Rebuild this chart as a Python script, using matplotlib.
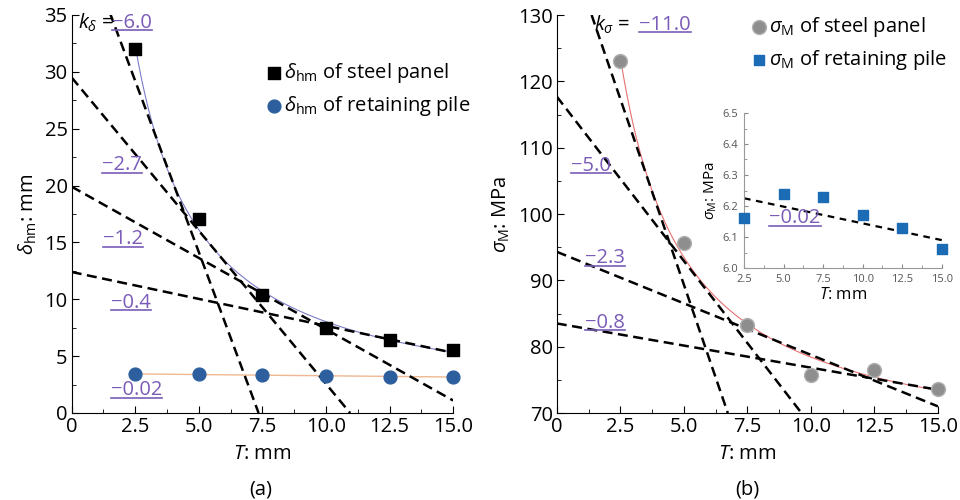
import numpy as np
import matplotlib.pyplot as plt
from matplotlib.ticker import MultipleLocator
from matplotlib.lines import Line2D

plt.rcParams['font.family'] = ['Open Sans', 'DejaVu Sans']
plt.rcParams['mathtext.fontset'] = 'custom'
plt.rcParams['mathtext.rm'] = 'Open Sans'
plt.rcParams['mathtext.it'] = 'Open Sans:italic'

FS = 14.5

# thickness T (mm)
T = np.array([2.5, 5.0, 7.5, 10.0, 12.5, 15.0])

# (a) horizontal displacement
d_panel = np.array([32.0, 17.1, 10.4, 7.5, 6.4, 5.5])
d_pile = np.array([3.45, 3.4, 3.3, 3.25, 3.2, 3.2])
# tangent lines: (x0, y0, x1, y1) and slope label
a_lines = [(1.5, 35.2, 7.35, 0.0), (0.0, 29.5, 10.95, 0.0),
           (0.0, 19.9, 15.0, 1.1), (0.0, 12.4, 15.0, 5.3)]
a_labels = ["\u22122.7", "\u22121.2", "\u22120.4", "\u22120.02"]
a_label_pos = [(1.2, 21.8), (1.25, 15.3), (1.55, 9.7), (1.55, 2.0)]

# (b) max stress
s_panel = np.array([123.0, 95.7, 83.2, 75.8, 76.5, 73.6])
s_pile = np.array([6.16, 6.24, 6.23, 6.17, 6.13, 6.06])
b_lines = [(1.37, 130.0, 6.73, 70.0), (0.0, 117.7, 9.63, 70.0),
           (0.0, 94.3, 15.0, 71.0), (0.0, 83.5, 15.0, 73.5)]
b_labels = ["\u22125.0", "\u22122.3", "\u22120.8"]
b_label_pos = [(0.55, 107.3), (1.1, 93.3), (1.1, 83.6)]
inset_line = (2.5, 6.225, 15.0, 6.09)

purple = '#7a5cb8'
dash = dict(color='k', lw=1.8, ls=(0, (4, 2.2)))
ulabels = []


def ulabel(ax, x, y, s, size=FS):
    t = ax.text(x, y, s, fontsize=size, va='center', color=purple)
    ulabels.append(t)


def fit_curve(x, y):
    b, a = np.polyfit(1.0 / x, y, 1)
    xs = np.linspace(x.min(), x.max(), 200)
    return xs, a + b / xs


def style(ax, xlim, ylim, ymaj, ymin):
    ax.set_xlim(*xlim)
    ax.set_ylim(*ylim)
    for s in ['top', 'right']:
        ax.spines[s].set_visible(False)
    ax.xaxis.set_major_locator(MultipleLocator(2.5))
    ax.xaxis.set_minor_locator(MultipleLocator(1.25))
    ax.yaxis.set_major_locator(MultipleLocator(ymaj))
    ax.yaxis.set_minor_locator(MultipleLocator(ymin))
    ax.tick_params(which='both', direction='in')
    ax.tick_params(which='major', length=5, labelsize=FS, pad=3)
    ax.tick_params(which='minor', length=3)


fig = plt.figure(figsize=(9.6, 5), dpi=100)
ax1 = fig.add_axes([0.0747, 0.174, 0.3973, 0.796])
ax2 = fig.add_axes([0.580, 0.174, 0.397, 0.796])
ax3 = fig.add_axes([0.775, 0.464, 0.206, 0.310])

# ---- (a)
style(ax1, (0, 15), (0, 35), 5, 2.5)
ax1.xaxis.set_major_formatter(lambda v, p: '0' if v == 0 else f'{v:.1f}')
xs, ys = fit_curve(T, d_panel)
ax1.plot(xs, ys, color='#7c7cc8', lw=0.8)
c = np.polyfit(T, d_pile, 1)
ax1.plot(T, np.polyval(c, T), color='#f0b890', lw=1)
for x0, y0, x1, y1 in a_lines:
    ax1.plot([x0, x1], [y0, y1], **dash)
ax1.scatter(T, d_panel, marker='s', s=65, color='k', zorder=5, clip_on=False,
            label=r'$\delta_{\rm hm}$ of steel panel')
ax1.scatter(T, d_pile, marker='o', s=85, color='#2d5f9e', zorder=5, clip_on=False,
            label=r'$\delta_{\rm hm}$ of retaining pile')
ax1.legend(loc='upper left', bbox_to_anchor=(0.47, 0.92), frameon=False,
           fontsize=FS, handletextpad=0.05, handlelength=0.9, labelspacing=0.45,
           borderpad=0.2)
ax1.text(0.25, 34.3, r'$k_\delta$ =', fontsize=FS, va='center')
ulabel(ax1, 1.6, 34.3, '\u22126.0')
for lab, (x, y) in zip(a_labels, a_label_pos):
    ulabel(ax1, x, y, lab)
ax1.set_ylabel(r'$\delta_{\rm hm}$: mm', fontsize=FS, labelpad=4)
ax1.set_xlabel(r'$T$: mm', fontsize=FS, labelpad=5)
fig.text(0.272, 0.012, '(a)', fontsize=FS, ha='center')

# ---- (b)
style(ax2, (0, 15), (70, 130), 10, 5)
ax2.xaxis.set_major_formatter(lambda v, p: '0' if v == 0 else f'{v:.1f}')
xs, ys = fit_curve(T, s_panel)
ax2.plot(xs, ys, color='#e87070', lw=0.8)
for x0, y0, x1, y1 in b_lines:
    ax2.plot([x0, x1], [y0, y1], **dash)
ax2.scatter(T, s_panel, marker='o', s=100, color='#8e8e8e', edgecolor='#b0b0b0',
            zorder=5, clip_on=False, label=r'$\sigma_{\rm M}$ of steel panel')
ax2.scatter([], [], marker='s', s=45, color='#1c6bb5', label=r'$\sigma_{\rm M}$ of retaining pile')
ax2.legend(loc='upper left', bbox_to_anchor=(0.47, 1.035), frameon=False,
           fontsize=FS, handletextpad=0.05, handlelength=0.9, labelspacing=0.45,
           borderpad=0.2)
ax2.text(1.45, 128.5, r'$k_\sigma$ =', fontsize=FS, va='center')
ulabel(ax2, 3.25, 128.5, '\u221211.0')
for lab, (x, y) in zip(b_labels, b_label_pos):
    ulabel(ax2, x, y, lab)
ax2.set_ylabel(r'$\sigma_{\rm M}$: MPa', fontsize=FS, labelpad=4)
ax2.set_xlabel(r'$T$: mm', fontsize=FS, labelpad=5)
fig.text(0.778, 0.012, '(b)', fontsize=FS, ha='center')

# ---- inset
style(ax3, (2.5, 15), (6.0, 6.5), 0.1, 0.05)
ax3.tick_params(which='major', labelsize=8, labelcolor='#555555', length=3,
                color='#888888')
ax3.tick_params(axis='x', which='major', pad=4)
ax3.tick_params(axis='y', which='major', pad=4)
ax3.tick_params(which='minor', length=2, color='#888888')
for s in ['left', 'bottom']:
    ax3.spines[s].set_color('#999999')
ax3.patch.set_alpha(0)
x0, y0, x1, y1 = inset_line
ax3.plot([x0, x1], [y0, y1], color='k', lw=1.6, ls=(0, (3, 2.5)))
ax3.scatter(T, s_pile, marker='s', s=55, color='#1c6bb5', zorder=5, clip_on=False)
ulabel(ax3, 4.1, 6.16, '\u22120.02')
ax3.set_ylabel(r'$\sigma_{\rm M}$: MPa', fontsize=11, labelpad=3)
ax3.set_xlabel(r'$T$: mm', fontsize=12, labelpad=2)

# underline the slope labels
fig.canvas.draw()
r = fig.canvas.get_renderer()
inv = fig.transFigure.inverted()
for t in ulabels:
    bb = t.get_window_extent(r).transformed(inv)
    fig.add_artist(Line2D([bb.x0, bb.x1], [bb.y0 + 0.005, bb.y0 + 0.005],
                          transform=fig.transFigure, color=purple, lw=1.2))

fig.savefig('out.png', dpi=100)
